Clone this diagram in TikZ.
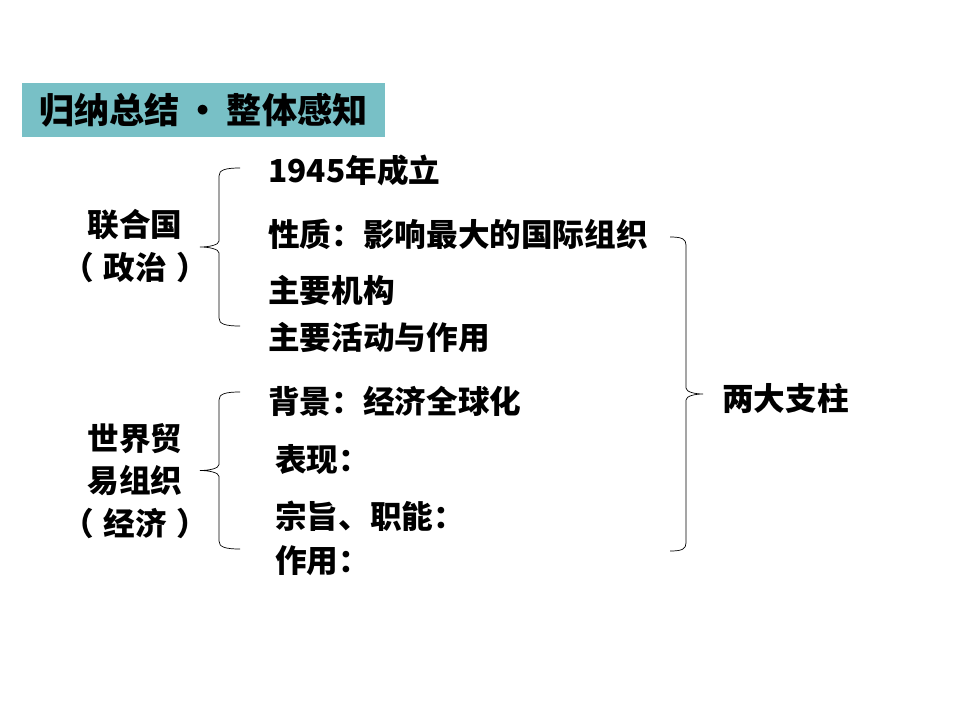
\documentclass[tikz,border=0pt]{standalone}
\usepackage{fontspec}
\usepackage{xcolor}
\usepackage{tikz}
\usetikzlibrary{calc}
\setmainfont{Noto Sans CJK SC}
\definecolor{titlebar}{RGB}{120,192,198}

% 括号 (左 / 右)
\newcommand{\leftbrc}[2]{%
  \draw[thin] (#1) .. controls +(-15,0) and +(0,-6) .. ++(-21,8)
    -- ($(#1)!0.5!(#2)+(-21,-6)$) .. controls +(0,4) and +(9,0) .. ++(-19,6)
    .. controls +(9,0) and +(0,-4) .. ++(19,6)
    -- ($(#2)+(-21,-8)$) .. controls +(0,6) and +(-15,0) .. (#2);}
\newcommand{\rightbrc}[2]{%
  \draw[thin] (#1) .. controls +(12,0) and +(0,-6) .. ++(16,8)
    -- ($(#1)!0.5!(#2)+(16,-6)$) .. controls +(0,4) and +(-8,0) .. ++(17,6)
    .. controls +(-8,0) and +(0,-4) .. ++(-17,6)
    -- ($(#2)+(16,-8)$) .. controls +(0,6) and +(12,0) .. (#2);}

\begin{document}
\begin{tikzpicture}[
  x=0.02cm,y=-0.02cm,
  item/.style={anchor=west,inner sep=0pt,font=\fontsize{18}{22}\selectfont\bfseries},
  org/.style={align=center,inner sep=0pt,font=\fontsize{18}{24}\selectfont\bfseries},
]
\useasboundingbox (0,0) rectangle (960,720);

% 标题
\node[fill=titlebar,minimum width=363*0.02cm,minimum height=54*0.02cm,inner sep=0pt,
  font=\fontsize{20}{24}\selectfont\bfseries] (title) at (203.5,110) {归纳总结\,•\,整体感知};

% 联合国
\node[org] (un) at (135,246) {联合国\\（\kern0.3em 政治\kern0.3em）};
\node[item] (un1) at (268,170) {1945年成立};
\node[item] (un2) at (268,234) {性质：影响最大的国际组织};
\node[item] (un3) at (268,290) {主要机构};
\node[item] (un4) at (268,337) {主要活动与作用};

% 世界贸易组织
\node[org] (wto) at (135,481) {世界贸\\易组织\\（\kern0.3em 经济\kern0.3em）};
\node[item] (wto1) at (268,401) {背景：经济全球化};
\node[item] (wto2) at (275,460) {表现：};
\node[item] (wto3) at (275,516) {宗旨、职能：};
\node[item] (wto4) at (275,561) {作用：};

% 两大支柱
\node[item] (pillar) at (722,398) {两大支柱};

% 括号
\coordinate (unTop) at (240,168);
\coordinate (unBot) at (240,326);
\coordinate (wtoTop) at (240,392);
\coordinate (wtoBot) at (240,549);
\coordinate (allTop) at (670,237);
\coordinate (allBot) at (670,551);

\leftbrc{unTop}{unBot}
\leftbrc{wtoTop}{wtoBot}
\rightbrc{allTop}{allBot}

\end{tikzpicture}
\end{document}
